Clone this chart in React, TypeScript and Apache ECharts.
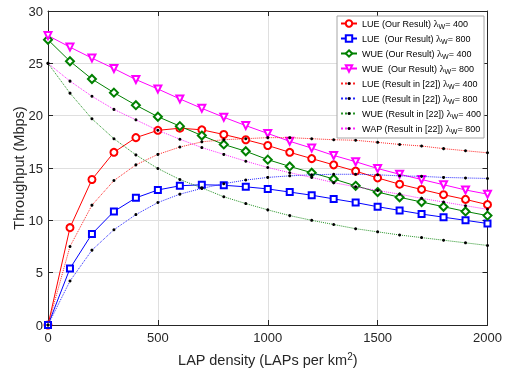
import React, { useEffect, useRef } from 'react';
import * as echarts from 'echarts';

// LAP density (LAPs per km^2)
const densities = [0, 100, 200, 300, 400, 500, 600, 700, 800, 900, 1000, 1100, 1200, 1300, 1400, 1500, 1600, 1700, 1800, 1900, 2000];

// Throughput (Mbps)
const lueOurs400 = [0, 9.3, 13.9, 16.5, 17.9, 18.6, 18.8, 18.65, 18.2, 17.7, 17.15, 16.5, 15.9, 15.3, 14.7, 14.05, 13.45, 12.95, 12.45, 12.0, 11.5];
const lueOurs800 = [0, 5.4, 8.7, 10.85, 12.15, 12.9, 13.3, 13.4, 13.35, 13.2, 13.0, 12.7, 12.4, 12.05, 11.7, 11.3, 10.95, 10.6, 10.3, 10.0, 9.7];
const wueOurs400 = [27.25, 25.2, 23.5, 22.2, 21.0, 19.9, 19.0, 18.1, 17.25, 16.6, 15.8, 15.15, 14.55, 13.95, 13.3, 12.7, 12.2, 11.75, 11.3, 10.85, 10.45];
const wueOurs800 = [27.65, 26.55, 25.5, 24.5, 23.45, 22.55, 21.6, 20.7, 19.85, 19.05, 18.3, 17.55, 16.9, 16.2, 15.6, 14.95, 14.4, 13.9, 13.4, 12.9, 12.5];
const lueRef400 = [0, 7.5, 11.45, 13.8, 15.3, 16.3, 17.0, 17.5, 17.7, 17.8, 17.9, 17.9, 17.8, 17.7, 17.65, 17.45, 17.25, 17.1, 16.85, 16.65, 16.45];
const lueRef800 = [0, 4.2, 7.15, 9.1, 10.55, 11.7, 12.5, 13.05, 13.5, 13.85, 14.1, 14.25, 14.35, 14.4, 14.4, 14.35, 14.25, 14.2, 14.1, 14.05, 14.0];
const wueRef400 = [25.0, 22.15, 19.7, 17.8, 16.25, 14.95, 13.9, 13.1, 12.25, 11.6, 11.0, 10.45, 10.0, 9.6, 9.2, 8.9, 8.6, 8.35, 8.1, 7.85, 7.6];
const wapRef800 = [25.0, 23.3, 21.85, 20.6, 19.6, 18.6, 17.75, 16.95, 16.3, 15.65, 15.05, 14.55, 14.1, 13.6, 13.2, 12.85, 12.5, 12.1, 11.75, 11.4, 11.05];

const legendTags = [
  'LUE (Our Result)',
  'LUE  (Our Result)',
  'WUE (Our Result)',
  'WUE  (Our Result)',
  'LUE (Result in [22])',
  'LUE (Result in [22])',
  'WUE (Result in [22])',
  'WAP (Result in [22])',
];
const lambdaW = [400, 800, 400, 800, 400, 800, 400, 800];
const seriesValues = [lueOurs400, lueOurs800, wueOurs400, wueOurs800, lueRef400, lueRef800, wueRef400, wapRef800];
const seriesColors = ['#ff0000', '#0000ff', '#008000', '#ff00ff', '#ff0000', '#0000ff', '#008000', '#ff00ff'];
const markerShapes = ['emptyCircle', 'emptyRect', 'emptyDiamond', 'emptyTriangle', 'circle', 'circle', 'circle', 'circle'];
const markerSizes = [7, 6, 8, 7, 3, 3, 3, 3];
const markerRotations = [0, 0, 0, 180, 0, 0, 0, 0];

const xTicks = { min: 0, max: 2000, interval: 500 };
const yTicks = { min: 0, max: 30, interval: 5 };

const FONT = '"Liberation Sans", Arial, Helvetica, sans-serif';
const SERIF = '"Liberation Serif", "DejaVu Serif", serif';
const AXIS_COLOR = '#262626';

// legend box geometry
const LEGEND_LEFT = 337;
const LEGEND_TOP = 16;
const LEGEND_ROW = 15;
const LEGEND_W = 147;

const seriesName = (i: number) => `${legendTags[i]} λW= ${lambdaW[i]}`;

export default function App() {
  const ref = useRef<HTMLDivElement>(null);

  useEffect(() => {
    if (!ref.current) return;
    const chart = echarts.init(ref.current, undefined, { renderer: 'svg' });

    const series = seriesValues.map((vals, i) => {
      const ours = i < 4;
      return {
        name: seriesName(i),
        type: 'line',
        xAxisIndex: 0,
        yAxisIndex: 0,
        data: densities.map((d, k) => [d, vals[k]]),
        symbol: markerShapes[i],
        symbolSize: markerSizes[i],
        symbolRotate: markerRotations[i],
        showAllSymbol: true,
        lineStyle: {
          color: seriesColors[i],
          width: 1,
          type: ours ? 'solid' : 'dotted',
          opacity: ours ? 1 : 0.85,
        },
        itemStyle: {
          color: ours ? seriesColors[i] : '#000000',
          borderColor: ours ? seriesColors[i] : '#000000',
          borderWidth: ours ? 1 : 0,
        },
        emphasis: { disabled: true },
        z: ours ? 2 : 3,
      };
    });

    const nameLookup: Record<string, number> = {};
    legendTags.forEach((_, i) => (nameLookup[seriesName(i)] = i));

    const legendText = {
      fontSize: 9,
      color: '#000000',
      fontFamily: FONT,
      rich: {
        t: { fontSize: 9, fontFamily: FONT, color: '#000', lineHeight: 13 },
        l: { fontSize: 10.5, fontFamily: SERIF, color: '#000', lineHeight: 13 },
        s: { fontSize: 7, fontFamily: FONT, color: '#000', padding: [6, 0, 0, 0], lineHeight: 13 },
      },
    };
    const legendFormatter = (name: string) => {
      const i = nameLookup[name];
      return `{t|${legendTags[i]} }{l|λ}{s|W}{t|= ${lambdaW[i]}}`;
    };
    // two stacked legends so the plain dot markers can be drawn smaller
    const makeLegend = (from: number, to: number, iconH: number) => ({
      orient: 'vertical',
      left: LEGEND_LEFT + 3,
      top: LEGEND_TOP + 1 + from * LEGEND_ROW,
      itemWidth: 16,
      itemHeight: iconH,
      itemGap: 2,
      padding: 0,
      z: 6,
      data: legendTags.slice(from, to).map((_, k) => seriesName(from + k)),
      formatter: legendFormatter,
      textStyle: legendText,
    });

    const axisLineStyle = { show: true, onZero: false, lineStyle: { color: AXIS_COLOR, width: 1 } };
    const tickStyle = { show: true, inside: true, length: 5, lineStyle: { color: AXIS_COLOR } };

    chart.setOption({
      animation: false,
      textStyle: { fontFamily: FONT },
      grid: { left: 48, right: 22.5, top: 11, bottom: 44, containLabel: false, outerBoundsMode: 'none' },
      xAxis: [
        {
          type: 'value',
          ...xTicks,
          position: 'bottom',
          name: 'LAP density (LAPs per km{sup|2})',
          nameLocation: 'middle',
          nameGap: 26,
          nameMoveOverlap: false,
          nameTextStyle: {
            fontSize: 14.5,
            color: AXIS_COLOR,
            fontFamily: FONT,
            rich: {
              sup: { fontSize: 10, fontFamily: FONT, color: AXIS_COLOR, padding: [0, 0, 8, 0] },
            },
          },
          axisLine: axisLineStyle,
          axisTick: tickStyle,
          axisLabel: { fontSize: 13, color: AXIS_COLOR, margin: 6, fontFamily: FONT, formatter: (v: number) => String(v) },
          splitLine: { show: true, lineStyle: { color: '#dfdfdf', width: 1 } },
        },
        {
          type: 'value',
          ...xTicks,
          position: 'top',
          axisLine: axisLineStyle,
          axisTick: tickStyle,
          axisLabel: { show: false },
          splitLine: { show: false },
        },
      ],
      yAxis: [
        {
          type: 'value',
          ...yTicks,
          position: 'left',
          name: 'Throughput (Mbps)',
          nameLocation: 'middle',
          nameGap: 22,
          nameMoveOverlap: false,
          nameTextStyle: { fontSize: 14.5, color: AXIS_COLOR, fontFamily: FONT },
          axisLine: axisLineStyle,
          axisTick: tickStyle,
          axisLabel: { fontSize: 13, color: AXIS_COLOR, margin: 5, fontFamily: FONT, formatter: (v: number) => String(v) },
          splitLine: { show: true, lineStyle: { color: '#dfdfdf', width: 1 } },
        },
        {
          type: 'value',
          ...yTicks,
          position: 'right',
          axisLine: axisLineStyle,
          axisTick: tickStyle,
          axisLabel: { show: false },
          splitLine: { show: false },
        },
      ],
      graphic: [
        {
          type: 'rect',
          z: 5,
          silent: true,
          shape: { x: LEGEND_LEFT, y: LEGEND_TOP, width: LEGEND_W, height: legendTags.length * LEGEND_ROW + 2 },
          style: { fill: '#ffffff', stroke: '#a6a6a6', lineWidth: 1 },
        },
      ],
      legend: [makeLegend(0, 4, 8), makeLegend(4, 8, 3.75)],
      series,
    });

    return () => chart.dispose();
  }, []);

  return <div ref={ref} style={{ position: 'fixed', left: 0, top: 0, width: 510, height: 369 }} />;
}
